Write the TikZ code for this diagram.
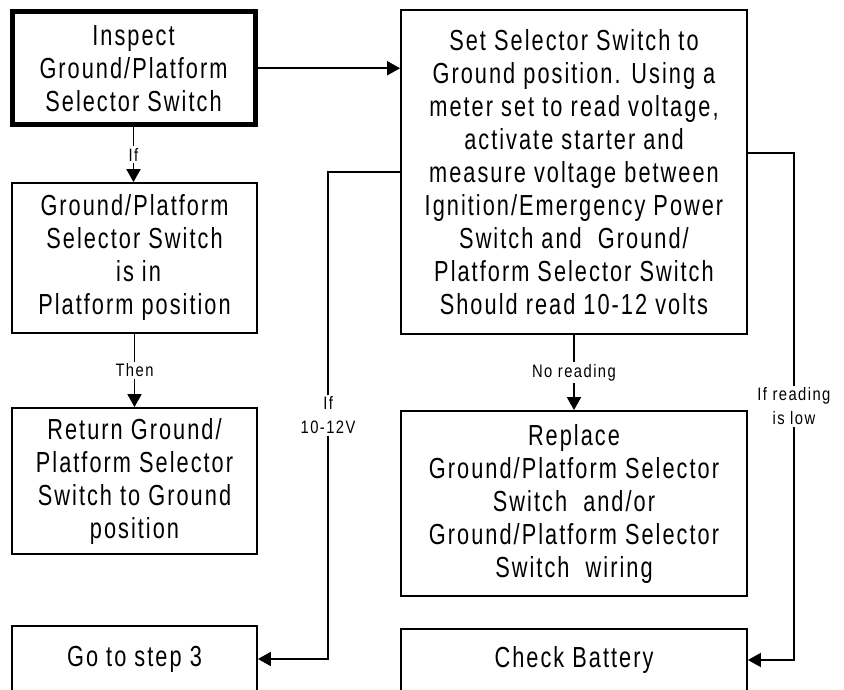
\documentclass[tikz,border=0pt]{standalone}
\usepackage{fontspec}
\setmainfont{Liberation Sans}
\newfontfamily\boxfont{Liberation Sans}[FakeStretch=0.75,LetterSpace=7]
\newfontfamily\tagfont{Liberation Sans}[FakeStretch=0.82,LetterSpace=8]
\usetikzlibrary{arrows.meta}

\begin{document}
\begin{tikzpicture}[x=1pt,y=-1pt,
  stepbox/.style={draw, line width=1.8pt, rectangle, inner sep=0pt, align=center,
    font=\boxfont\fontsize{29}{33}\selectfont},
  startbox/.style={stepbox, line width=5pt},
  link/.style={line width=1.8pt, -{Triangle[length=13pt,width=14pt]}},
  tag/.style={fill=white, inner xsep=1pt, inner ysep=2pt, align=center,
    font=\tagfont\fontsize{18}{24}\selectfont}]

\useasboundingbox (0,0) rectangle (844,690);
\clip (0,0) rectangle (844,690);

% left column
\node[startbox, minimum width=243pt, minimum height=113.5pt] (inspect) at (133.5,68.25)
  {Inspect\\Ground/Platform\\Selector Switch};
\node[stepbox, minimum width=245pt, minimum height=150pt] (inplat) at (134.5,258)
  {Ground/Platform\\Selector Switch\\\ is in\\Platform position};
\node[stepbox, minimum width=245pt, minimum height=146pt] (restore) at (134.5,481)
  {Return Ground/\\Platform Selector\\Switch to Ground\\position};
\node[stepbox, minimum width=245pt, minimum height=66pt] (step3) at (134.5,659)
  {Go to step 3};

% right column
\node[stepbox, minimum width=346pt, minimum height=324pt] (measure) at (574,172)
  {Set Selector Switch to\\Ground position. Using a\\meter set to read voltage,\\activate starter and\\measure voltage between\\Ignition/Emergency Power\\Switch and\ \ Ground/\\Platform Selector Switch\\Should read 10-12 volts};
\node[stepbox, minimum width=346pt, minimum height=185pt] (replace) at (574,503.5)
  {Replace\\Ground/Platform Selector\\Switch\ \ and/or\\Ground/Platform Selector\\Switch\ \ wiring};
\node[stepbox, minimum width=346pt, minimum height=62pt] (battery) at (574,660)
  {Check Battery};

% connectors
\draw[link] (inspect.east) -- (inspect.east -| measure.west);
\draw[link] (inspect.south) -- node[tag]{If} (inspect.south |- inplat.north);
\draw[link] (inplat.south) -- node[tag]{Then} (inplat.south |- restore.north);
\draw[link] (measure.south) -- node[tag]{No reading} (measure.south |- replace.north);
\draw[link] (measure.west) -- ++(-72,0) |- node[tag, pos=0.25]{If\\10-12V} (step3.east);
\draw[link] ([yshift=19pt]measure.east) -- ++(46,0) |- node[tag, pos=0.25]{If reading\\is low} (battery.east);

\end{tikzpicture}
\end{document}
